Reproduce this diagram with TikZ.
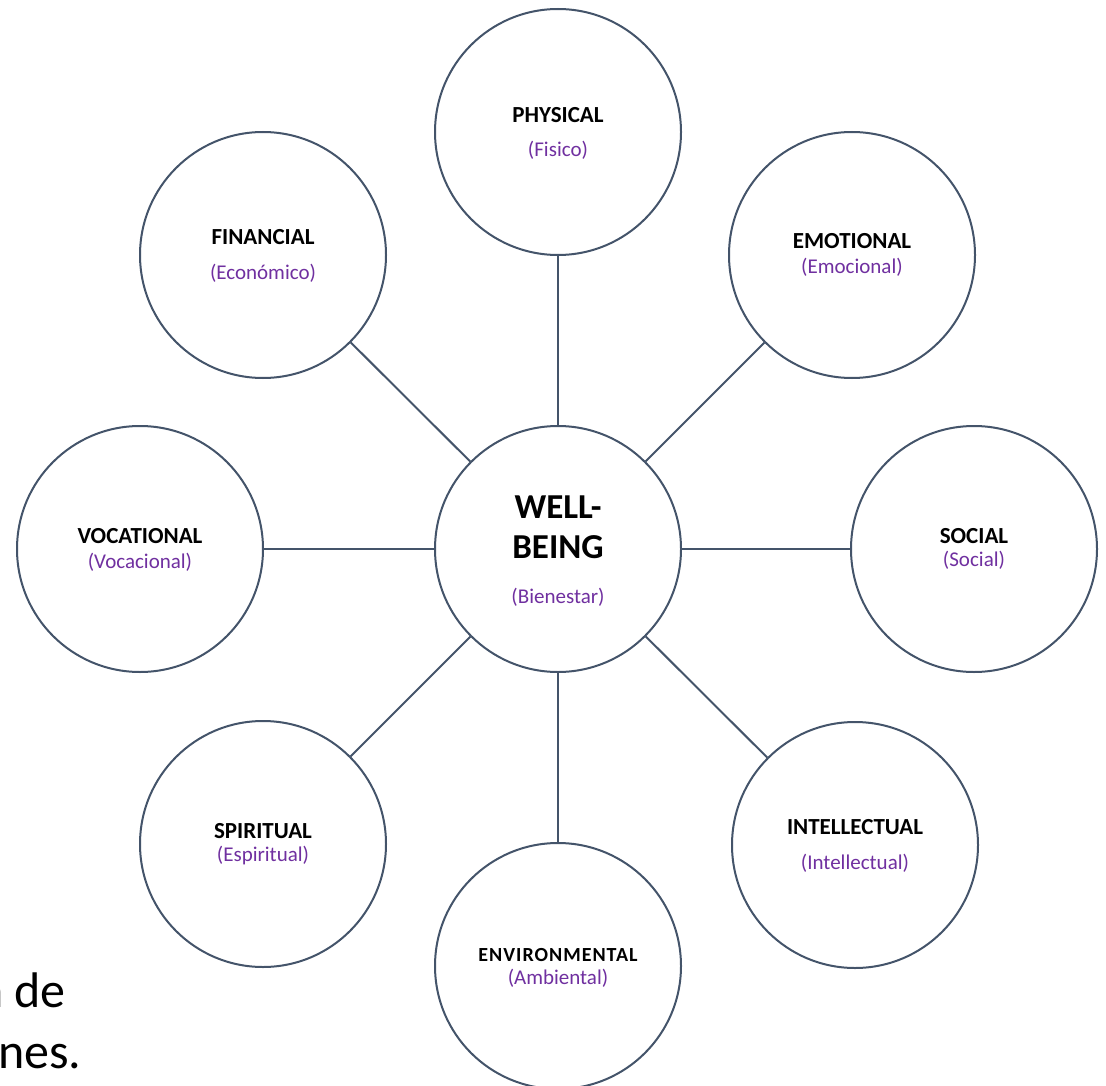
\documentclass[tikz,border=0pt]{standalone}
\usepackage{fontspec}
\setmainfont{Carlito}
\definecolor{edge}{HTML}{44546A}
\definecolor{trans}{HTML}{7030A0}
\begin{document}
\begin{tikzpicture}[x=1pt,y=-1pt,
  ring/.style={circle,draw=edge,line width=2pt,minimum size=246pt,inner sep=0pt,fill=white},
  lab/.style={font=\fontsize{23}{26}\selectfont\bfseries,inner sep=0pt,text=black},
  tr/.style={font=\fontsize{21}{24}\selectfont,inner sep=0pt,text=trans},
  big/.style={font=\fontsize{35}{40}\selectfont\bfseries,inner sep=0pt,text=black},
  link/.style={draw=edge,line width=2pt}]
\useasboundingbox (0,0) rectangle (1106,1086);
\begin{scope}
\clip (0,0) rectangle (1106,1086);
% circles
\node[ring] (c) at (558,549) {};
\node[ring] (phys) at (558,132) {};
\node[ring] (emo) at (852,255) {};
\node[ring] (soc) at (974,549) {};
\node[ring] (intel) at (855,845) {};
\node[ring] (env) at (558,966) {};
\node[ring] (spir) at (263,844) {};
\node[ring] (voc) at (140,549) {};
\node[ring] (fin) at (263,255) {};
% connectors
\foreach \n in {phys,emo,soc,intel,env,spir,voc,fin}
  \draw[link] (c) -- (\n);
% texts
\node[big] (t1) at (558,507) {WELL-};
\node[big] (t2) at (558,547) {BEING};
\node[tr] (t3) at (558,597) {(Bienestar)};
\node[lab] (l1) at (558,115) {PHYSICAL};
\node[tr] (r1) at (558,150) {(Fisico)};
\node[lab] (l2) at (852,241) {EMOTIONAL};
\node[tr] (r2) at (852,267) {(Emocional)};
\node[lab] (l3) at (974,536) {SOCIAL};
\node[tr] (r3) at (974,560) {(Social)};
\node[lab] (l4) at (855,827) {INTELLECTUAL};
\node[tr] (r4) at (855,863) {(Intellectual)};
\node[lab,font=\fontsize{20}{23}\selectfont\bfseries\addfontfeatures{LetterSpace=5}] (l5) at (558,955) {ENVIRONMENTAL};
\node[tr] (r5) at (558,978) {(Ambiental)};
\node[lab] (l6) at (263,831) {SPIRITUAL};
\node[tr] (r6) at (263,856) {(Espiritual)};
\node[lab] (l7) at (140,536) {VOCATIONAL};
\node[tr] (r7) at (140,562) {(Vocacional)};
\node[lab] (l8) at (263,237) {FINANCIAL};
\node[tr] (r8) at (263,273) {(Económico)};
% cut-off text at the bottom left
\node[font=\fontsize{50}{60}\selectfont,inner sep=0pt,anchor=base east] (b1) at (66,1007) {n de};
\node[font=\fontsize{50}{60}\selectfont,inner sep=0pt,anchor=base west] (b2) at (-2,1068) {nes.};
\end{scope}
\end{tikzpicture}
\end{document}
